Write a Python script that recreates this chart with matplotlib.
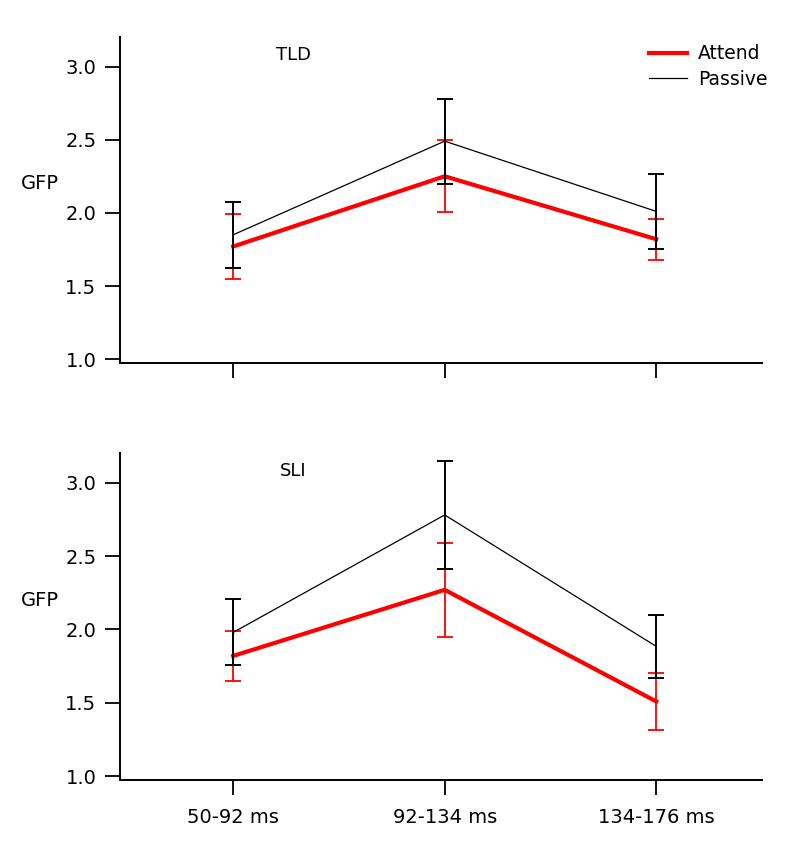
import numpy as np
import matplotlib
matplotlib.use("Agg")
import matplotlib.pyplot as plt

# time windows
windows = ["50-92 ms", "92-134 ms", "134-176 ms"]

# TLD group
tld_attend = [1.77, 2.25, 1.82]
tld_attend_err = [0.225, 0.245, 0.14]
tld_passive = [1.85, 2.49, 2.01]
tld_passive_err = [0.225, 0.29, 0.255]

# SLI group
sli_attend = [1.82, 2.27, 1.51]
sli_attend_err = [0.17, 0.32, 0.195]
sli_passive = [1.98, 2.78, 1.885]
sli_passive_err = [0.225, 0.37, 0.215]

RED = "#ff0000"


def draw_panel(ax, attend, attend_err, passive, passive_err, title, show_xlabels):
    x = np.arange(len(windows))
    ax.errorbar(x, attend, yerr=attend_err, fmt="none", ecolor=RED,
                elinewidth=1.3, capsize=6, capthick=1.3, zorder=2)
    ax.plot(x, attend, color=RED, lw=3, label="Attend", zorder=3)
    ax.errorbar(x, passive, yerr=passive_err, fmt="none", ecolor="black",
                elinewidth=1.4, capsize=6, capthick=1.4, zorder=4)
    ax.plot(x, passive, color="black", lw=0.9, label="Passive", zorder=5)

    ax.set_xlim(-0.535, 2.5)
    ax.set_ylim(0.975, 3.2)
    ax.set_yticks([1.0, 1.5, 2.0, 2.5, 3.0])
    ax.set_yticklabels(["1.0", "1.5", "2.0", "2.5", "3.0"])
    ax.set_xticks(x)
    if show_xlabels:
        ax.set_xticklabels(windows)
    else:
        ax.set_xticklabels([])

    for side in ["top", "right"]:
        ax.spines[side].set_visible(False)
    for side in ["left", "bottom"]:
        ax.spines[side].set_linewidth(1.4)
    ax.tick_params(direction="out", length=11, width=1.3, labelsize=14, pad=6)
    ax.tick_params(axis="x", pad=9, labelsize=14)

    ax.text(-0.125, 0.55, "GFP", transform=ax.transAxes, fontsize=14,
            ha="center", va="center")
    ax.text(0.27, 0.945, title, transform=ax.transAxes, fontsize=13,
            ha="center", va="center")


fig = plt.figure(figsize=(8, 8.66), dpi=100)
ax_top = fig.add_axes([0.15, 0.581, 0.8025, 0.376])
ax_bot = fig.add_axes([0.15, 0.0993, 0.8025, 0.3773])

draw_panel(ax_top, tld_attend, tld_attend_err, tld_passive, tld_passive_err, "TLD", False)
draw_panel(ax_bot, sli_attend, sli_attend_err, sli_passive, sli_passive_err, "SLI", True)

ax_top.legend(loc="upper right", bbox_to_anchor=(1.035, 1.03), frameon=False,
              fontsize=13.5, handlelength=2.0, handletextpad=0.6, labelspacing=0.35)

fig.savefig("out.png", dpi=100, facecolor="white")
